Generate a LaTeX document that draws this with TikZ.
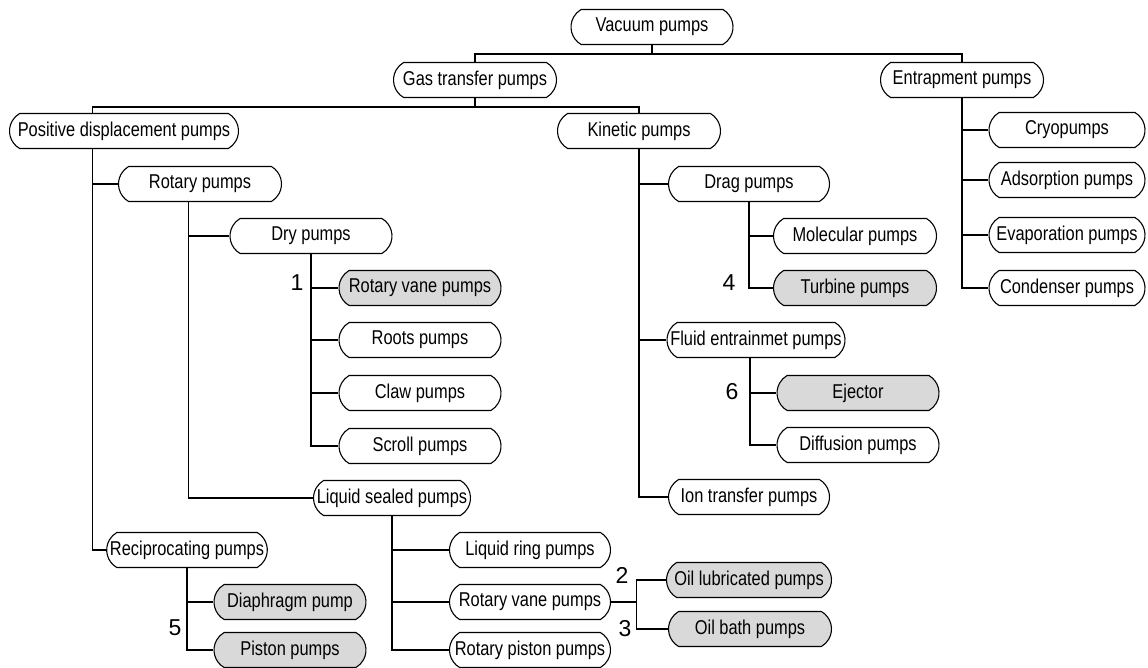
\documentclass[tikz,border=0pt]{standalone}
\usepackage{fontspec}
\setmainfont{Liberation Sans}
\newfontfamily\boxfont[FakeStretch=0.82]{Liberation Sans}
\usepackage{tikz}
\usetikzlibrary{shapes}
\usetikzlibrary{positioning}
\usepackage{xcolor}

\tikzset{pump/.style={draw,fill=white,rounded rectangle,rounded rectangle arc length=120,
    minimum height=35pt,minimum width=164pt,inner xsep=1pt,inner ysep=2pt,
    font=\boxfont\fontsize{20}{24}\selectfont},
  greypump/.style={pump,fill=gray!30},
  num/.style={font=\fontsize{23}{27}\selectfont}}

\begin{document}
\begin{tikzpicture}[x=1pt,y=-1pt,line width=1.1pt]
\useasboundingbox (0,0) rectangle (1148,668);
% top levels
\node[pump] (vac) at (652,27) {Vacuum pumps};
\node[pump,minimum width=165] (gas) at (475,80) {Gas transfer pumps};
\node[pump,minimum width=165] (ent) at (962,80) {Entrapment pumps};
\node[pump,minimum width=231] (pd) at (124,131) {Positive displacement pumps};
\node[pump,minimum width=165] (kin) at (639,131) {Kinetic pumps};
% positive displacement
\node[pump,minimum width=165] (rot) at (200,184) {Rotary pumps};
\node[pump] (dry) at (311,236) {Dry pumps};
\node[greypump] (rv1) at (420,288) {Rotary vane pumps};
\node[pump] (roots) at (420,340) {Roots pumps};
\node[pump] (claw) at (420,393) {Claw pumps};
\node[pump] (scroll) at (420,446) {Scroll pumps};
\node[pump,minimum width=153] (liq) at (392,498) {Liquid sealed pumps};
\node[pump,minimum width=163] (lring) at (530,550) {Liquid ring pumps};
\node[pump,minimum width=163] (rv2) at (530,602) {Rotary vane pumps};
\node[pump,minimum width=163] (rpist) at (530,650) {Rotary piston pumps};
\node[greypump,minimum width=167] (oill) at (749,580) {Oil lubricated pumps};
\node[greypump,minimum width=165] (oilb) at (750,629) {Oil bath pumps};
\node[pump,minimum width=153] (recip) at (187,550) {Reciprocating pumps};
\node[greypump,minimum width=154] (diaph) at (290,602) {Diaphragm pump};
\node[greypump,minimum width=154] (piston) at (290,650) {Piston pumps};
% kinetic
\node[pump,minimum width=163] (drag) at (749,184) {Drag pumps};
\node[pump,minimum width=165] (molec) at (855,236) {Molecular pumps};
\node[greypump,minimum width=165] (turb) at (855,288) {Turbine pumps};
\node[pump,minimum width=180] (fluid) at (756,340) {Fluid entrainmet pumps};
\node[greypump] (eject) at (858,393) {Ejector};
\node[pump] (diff) at (858,445) {Diffusion pumps};
\node[pump,minimum width=163] (ion) at (749,497) {Ion transfer pumps};
% entrapment
\node[pump,minimum width=158] (cryo) at (1067,130) {Cryopumps};
\node[pump,minimum width=158] (ads) at (1067,180) {Adsorption pumps};
\node[pump,minimum width=158] (evap) at (1067,235) {Evaporation pumps};
\node[pump,minimum width=158] (cond) at (1067,288) {Condenser pumps};
% numbers
\node[num] (n1) at (297,283) {1};
\node[num] (n2) at (622,575) {2};
\node[num] (n3) at (625,629) {3};
\node[num] (n4) at (729,283) {4};
\node[num] (n5) at (175,628) {5};
\node[num] (n6) at (732,392) {6};
% connectors
\draw (vac.south) -- ++(0,9) coordinate (v1);
\draw (gas.north) |- (v1) -| (ent.north);
\draw (gas.south) -- ++(0,9) coordinate (g1);
\draw ([xshift=73pt]pd.north west) |- (g1) -| (kin.north);
\foreach \c in {rot,recip} \draw ([xshift=73pt]pd.south west) |- (\c.west);
\foreach \c in {dry,liq} \draw ([xshift=60pt]rot.south west) |- (\c.west);
\foreach \c in {rv1,roots,claw,scroll} \draw (dry.south) |- (\c.west);
\foreach \c in {lring,rv2,rpist} \draw (liq.south) |- (\c.west);
\foreach \c in {diaph,piston} \draw (recip.south) |- (\c.west);
\draw (rv2.east) -- ++(25,0) coordinate (r2);
\draw (oill.west) -| (r2) |- (oilb.west);
\foreach \c in {drag,fluid,ion} \draw (kin.south) |- (\c.west);
\foreach \c in {molec,turb} \draw (drag.south) |- (\c.west);
\foreach \c in {eject,diff} \draw ([xshift=73pt]fluid.south west) |- (\c.west);
\foreach \c in {cryo,ads,evap,cond} \draw (ent.south) |- (\c.west);
\end{tikzpicture}
\end{document}
